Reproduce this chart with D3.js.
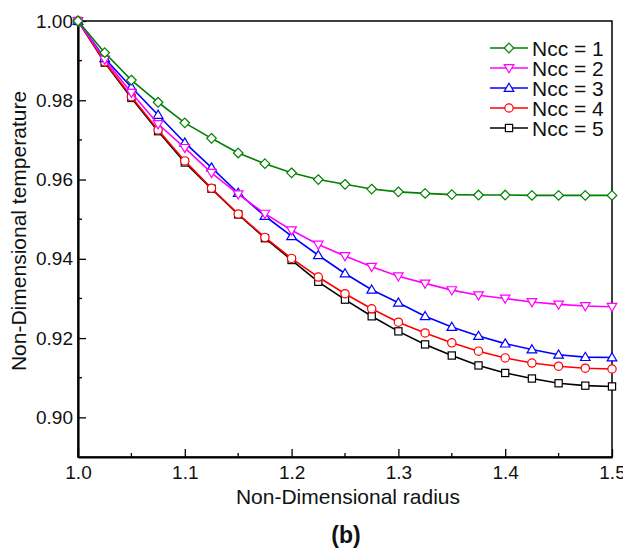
<!DOCTYPE html>
<html>
<head>
<meta charset="utf-8">
<script src="https://cdn.jsdelivr.net/npm/d3@7"></script>
<style>
  body { margin: 0; background: #fff; }
  svg { font-family: "Liberation Sans", Arial, sans-serif; }
</style>
</head>
<body>
<div id="chart"></div>
<script>
// x 값 (무차원 반경)
const radius = [1.0, 1.025, 1.05, 1.075, 1.1, 1.125, 1.15, 1.175, 1.2, 1.225, 1.25,
  1.275, 1.3, 1.325, 1.35, 1.375, 1.4, 1.425, 1.45, 1.475, 1.5];

// 시리즈별 무차원 온도
const ncc1 = [1.0, 0.992, 0.9851, 0.9795, 0.9743, 0.9704, 0.9667, 0.964, 0.9617, 0.96, 0.9588,
  0.9576, 0.9569, 0.9565, 0.9562, 0.9561, 0.9561, 0.956, 0.956, 0.956, 0.956];
const ncc2 = [1.0, 0.9903, 0.9819, 0.974, 0.968, 0.9617, 0.9563, 0.9514, 0.9472, 0.9436, 0.9407,
  0.938, 0.9356, 0.9338, 0.9321, 0.9308, 0.93, 0.9291, 0.9285, 0.9281, 0.9279];
const ncc3 = [1.0, 0.9906, 0.9833, 0.9763, 0.9693, 0.963, 0.9566, 0.9508, 0.9457, 0.9409, 0.9363,
  0.9322, 0.9289, 0.9255, 0.9228, 0.9205, 0.9186, 0.9171, 0.9158, 0.9152, 0.9151];
const ncc4 = [1.0, 0.9897, 0.9809, 0.9725, 0.9647, 0.9578, 0.9513, 0.9454, 0.9401, 0.9354, 0.9312,
  0.9274, 0.924, 0.9213, 0.9188, 0.9167, 0.915, 0.9137, 0.9129, 0.9124, 0.9122];
const ncc5 = [1.0, 0.9895, 0.9806, 0.9722, 0.9643, 0.9577, 0.9512, 0.9452, 0.9397, 0.9342, 0.9297,
  0.9255, 0.9217, 0.9184, 0.9156, 0.9131, 0.9112, 0.9098, 0.9086, 0.908, 0.9078];

const seriesNames = ["Ncc = 1", "Ncc = 2", "Ncc = 3", "Ncc = 4", "Ncc = 5"];
const seriesValues = [ncc1, ncc2, ncc3, ncc4, ncc5];
const seriesColors = ["#008000", "#ff00ff", "#0000ff", "#ff0000", "#000000"];
const seriesSymbols = ["diamond", "down", "up", "circle", "square"];

const xTicks = [1.0, 1.1, 1.2, 1.3, 1.4, 1.5];
const yTicks = [0.90, 0.92, 0.94, 0.96, 0.98, 1.00];

const width = 623, height = 554;
const plotLeft = 78, plotRight = 612, plotTop = 21, plotBottom = 457;

const svg = d3.select("#chart").append("svg")
  .attr("width", width)
  .attr("height", height);

const x = d3.scaleLinear().domain([1.0, 1.5]).range([plotLeft, plotRight]);
const y = d3.scaleLinear().domain([0.89, 1.0]).range([plotBottom, plotTop]);

// 프레임 (위/오른쪽)
svg.append("rect")
  .attr("x", plotLeft).attr("y", plotTop)
  .attr("width", plotRight - plotLeft).attr("height", plotBottom - plotTop)
  .attr("fill", "none").attr("stroke", "#000").attr("stroke-width", 1.5);

// 보조 눈금 (안쪽)
const xMinor = [1.05, 1.15, 1.25, 1.35, 1.45];
const yMinor = [0.91, 0.93, 0.95, 0.97, 0.99];

svg.append("g").selectAll("line").data(xMinor).join("line")
  .attr("x1", d => x(d)).attr("x2", d => x(d))
  .attr("y1", plotBottom).attr("y2", plotBottom - 4)
  .attr("stroke", "#000").attr("stroke-width", 1.3);
svg.append("g").selectAll("line").data(yMinor).join("line")
  .attr("x1", plotLeft).attr("x2", plotLeft + 4)
  .attr("y1", d => y(d)).attr("y2", d => y(d))
  .attr("stroke", "#000").attr("stroke-width", 1.3);

// x 축
const xAxis = svg.append("g")
  .attr("transform", `translate(0,${plotBottom})`)
  .call(d3.axisBottom(x).tickValues(xTicks).tickFormat(d3.format(".1f"))
    .tickSizeInner(-8).tickSizeOuter(0).tickPadding(9));
xAxis.select(".domain").attr("stroke-width", 2.2);
xAxis.selectAll(".tick line").attr("stroke-width", 1.3);
xAxis.selectAll("text").attr("font-size", 19).attr("fill", "#111")
  .attr("font-family", "Liberation Sans, Arial, sans-serif");

// y 축
const yAxis = svg.append("g")
  .attr("transform", `translate(${plotLeft},0)`)
  .call(d3.axisLeft(y).tickValues(yTicks).tickFormat(d3.format(".2f"))
    .tickSizeInner(-8).tickSizeOuter(0).tickPadding(5));
yAxis.select(".domain").attr("stroke-width", 2.2);
yAxis.selectAll(".tick line").attr("stroke-width", 1.3);
yAxis.selectAll("text").attr("font-size", 19).attr("fill", "#111")
  .attr("font-family", "Liberation Sans, Arial, sans-serif");

// 마커 그리기 함수
function drawMarker(g, type, cx, cy, color, s) {
  if (type === "circle") {
    g.append("circle").attr("cx", cx).attr("cy", cy).attr("r", s * 0.52)
      .attr("fill", "#fff").attr("stroke", color).attr("stroke-width", 1.2);
  } else if (type === "square") {
    const h = s * 0.45;
    g.append("rect").attr("x", cx - h).attr("y", cy - h).attr("width", 2 * h).attr("height", 2 * h)
      .attr("fill", "#fff").attr("stroke", color).attr("stroke-width", 1.2);
  } else {
    let pts;
    const h = s * 0.6;
    if (type === "diamond") pts = [[cx, cy - h], [cx + h, cy], [cx, cy + h], [cx - h, cy]];
    else if (type === "up") pts = [[cx, cy - h], [cx + h, cy + h * 0.7], [cx - h, cy + h * 0.7]];
    else pts = [[cx, cy + h], [cx + h, cy - h * 0.7], [cx - h, cy - h * 0.7]];
    g.append("polygon").attr("points", pts.map(p => p.join(",")).join(" "))
      .attr("fill", "#fff").attr("stroke", color).attr("stroke-width", 1.2);
  }
}

const line = d3.line().x(d => x(d[0])).y(d => y(d[1]));

// 뒤에서부터 그려서 Ncc=1이 위로
const plot = svg.append("g");
for (let k = seriesValues.length - 1; k >= 0; k--) {
  const pts = radius.map((r, i) => [r, seriesValues[k][i]]);
  const g = plot.append("g");
  g.append("path").attr("d", line(pts))
    .attr("fill", "none").attr("stroke", seriesColors[k]).attr("stroke-width", 1.6);
  pts.forEach(p => drawMarker(g, seriesSymbols[k], x(p[0]), y(p[1]), seriesColors[k], 8));
}

// 범례
const legend = svg.append("g");
seriesNames.forEach((name, i) => {
  const ly = 48 + i * 20;
  legend.append("line").attr("x1", 490).attr("x2", 528).attr("y1", ly).attr("y2", ly)
    .attr("stroke", seriesColors[i]).attr("stroke-width", 1.6);
  drawMarker(legend, seriesSymbols[i], 509, ly, seriesColors[i], 8);
  legend.append("text").attr("x", 532).attr("y", ly).attr("dy", "0.36em")
    .attr("font-size", 21).attr("fill", "#111").text(name);
});

// 축 제목
svg.append("text")
  .attr("x", 348).attr("y", 504)
  .attr("text-anchor", "middle").attr("font-size", 21).attr("fill", "#111")
  .text("Non-Dimensional radius");

svg.append("text")
  .attr("transform", `translate(26,231) rotate(-90)`)
  .attr("text-anchor", "middle").attr("font-size", 21).attr("fill", "#111")
  .text("Non-Dimensional temperature");

svg.append("text")
  .attr("x", 346).attr("y", 543)
  .attr("text-anchor", "middle").attr("font-size", 23).attr("font-weight", "bold").attr("fill", "#111")
  .text("(b)");
</script>
</body>
</html>
